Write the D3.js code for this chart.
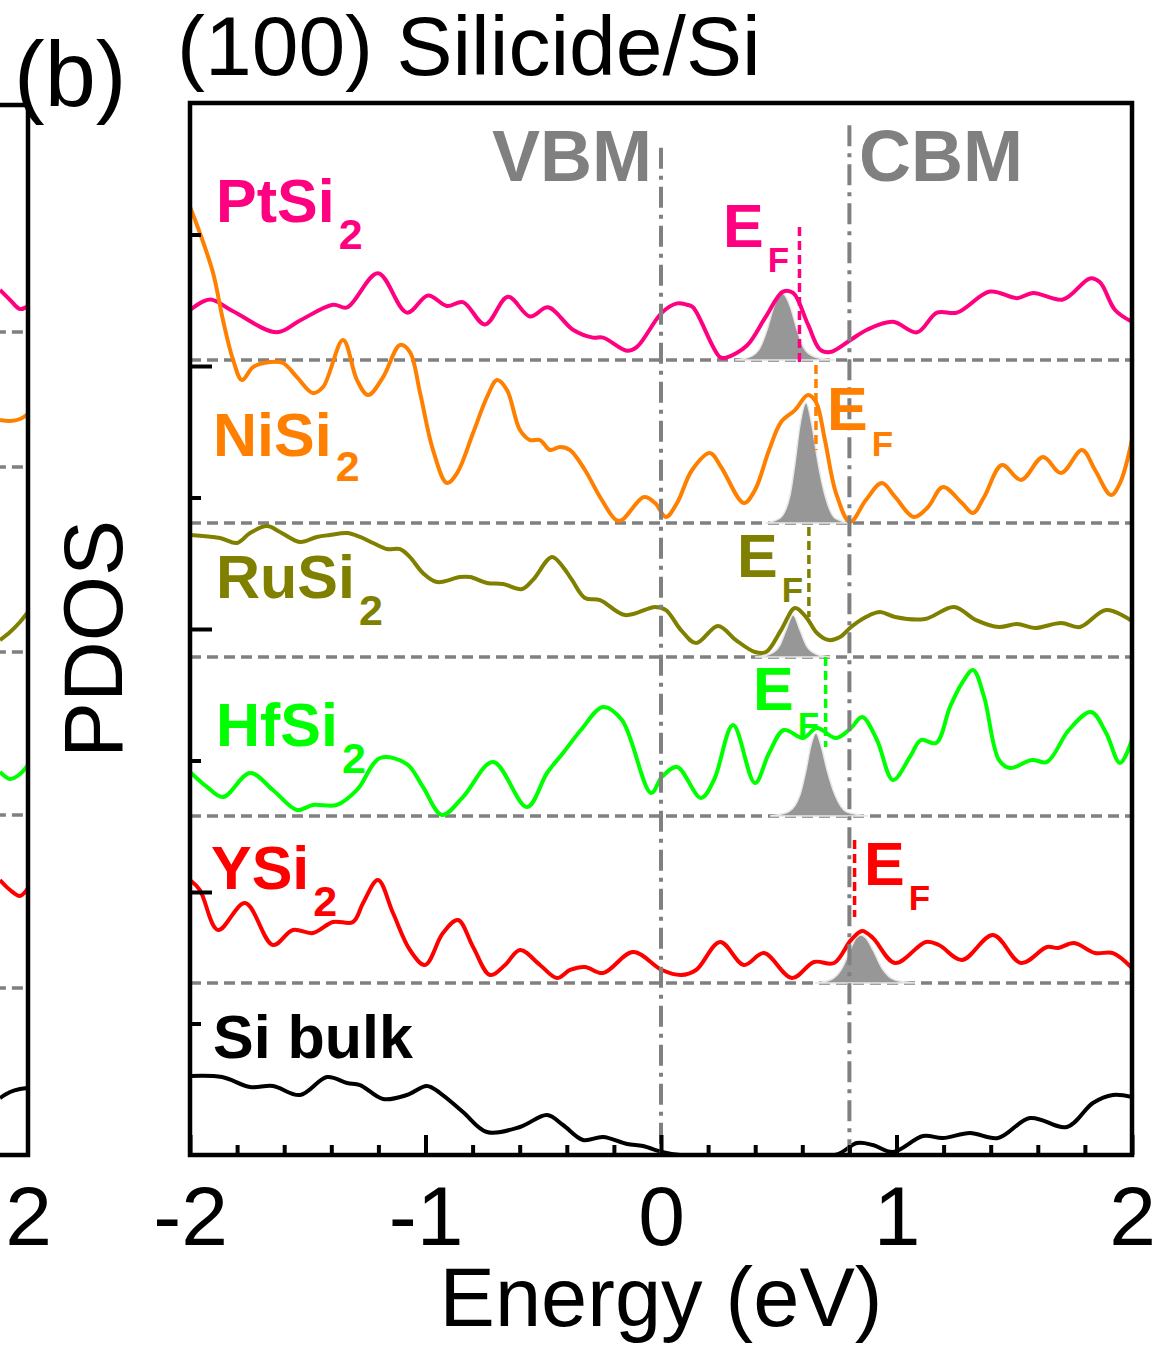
<!DOCTYPE html>
<html><head><meta charset="utf-8">
<script src="https://cdn.jsdelivr.net/npm/d3@7"></script>
<style>body{margin:0;background:#fff}text{font-family:"Liberation Sans",Arial,sans-serif}</style>
</head><body><svg id="c" width="1159" height="1346"></svg>
<script>
// ---------- DATA ----------
const materials = ["PtSi", "NiSi", "RuSi", "HfSi", "YSi", "Si bulk"];
const colors = ["#FF0080", "#FF8000", "#808000", "#00FF00", "#FF0000", "#000000"];
const offsets = [6.046, 4.806, 3.787, 2.578, 1.308, 0];
const xTicks = [-2, -1, 0, 1, 2];
const xTickLabels = ["-2", "-1", "0", "1", "2"];
const xMinorTicks = [-1.8,-1.6,-1.4,-1.2,-0.8,-0.6,-0.4,-0.2,0.2,0.4,0.6,0.8,1.2,1.4,1.6,1.8];
const yMajorTicks = [2, 4, 6];
const yMinorTicks = [1, 3, 5, 7];
const vbmE = 0, cbmE = 0.80;
const vbmTop = 7.66, cbmTop = 7.83;

const ptE = [-2.000,-1.915,-1.817,-1.631,-1.533,-1.393,-1.333,-1.202,-1.079,-0.989,-0.909,-0.841,-0.747,-0.650,-0.556,-0.480,-0.374,-0.289,-0.246,-0.144,-0.102,0.004,0.068,0.110,0.136,0.251,0.280,0.365,0.442,0.518,0.561,0.624,0.675,0.718,0.803,0.875,0.985,1.087,1.172,1.257,1.397,1.512,1.580,1.707,1.822,1.864,1.928,2.000];
const ptV = [0.38,0.46,0.37,0.21,0.30,0.42,0.40,0.66,0.36,0.49,0.41,0.44,0.27,0.48,0.33,0.40,0.23,0.17,0.17,0.07,0.10,0.36,0.43,0.42,0.40,0.02,0.02,0.11,0.32,0.52,0.51,0.27,0.08,0.06,0.15,0.23,0.29,0.21,0.36,0.36,0.52,0.47,0.51,0.46,0.62,0.59,0.38,0.29];

const niE = [-2.000,-1.958,-1.902,-1.860,-1.817,-1.779,-1.732,-1.660,-1.605,-1.546,-1.478,-1.435,-1.350,-1.291,-1.244,-1.180,-1.108,-1.066,-1.023,-0.968,-0.909,-0.866,-0.798,-0.739,-0.696,-0.654,-0.599,-0.556,-0.514,-0.471,-0.429,-0.386,-0.323,-0.259,-0.191,-0.166,-0.072,-0.025,0.021,0.068,0.132,0.208,0.255,0.352,0.399,0.459,0.510,0.569,0.624,0.658,0.696,0.743,0.803,0.870,0.938,0.994,1.074,1.134,1.197,1.278,1.325,1.372,1.448,1.529,1.622,1.699,1.788,1.843,1.911,1.949,2.000];
const niV = [2.403,2.205,1.901,1.544,1.240,1.087,1.186,1.224,1.217,1.110,0.989,1.034,1.392,1.087,0.973,1.110,1.354,1.300,0.989,0.555,0.304,0.380,0.684,0.958,1.087,1.011,0.707,0.631,0.631,0.555,0.578,0.555,0.403,0.198,0.023,0.023,0.198,0.152,0.046,0.152,0.403,0.532,0.426,0.152,0.251,0.555,0.768,0.859,0.973,0.920,0.631,0.228,0.008,0.175,0.304,0.198,0.046,0.122,0.274,0.152,0.076,0.198,0.441,0.327,0.502,0.380,0.555,0.403,0.213,0.304,0.631];

const ruE = [-2.000,-1.873,-1.800,-1.745,-1.673,-1.618,-1.533,-1.461,-1.406,-1.333,-1.278,-1.223,-1.163,-1.108,-1.066,-1.011,-0.951,-0.854,-0.811,-0.739,-0.671,-0.590,-0.544,-0.463,-0.416,-0.378,-0.323,-0.259,-0.153,-0.025,0.021,0.085,0.149,0.242,0.318,0.399,0.446,0.510,0.569,0.616,0.662,0.713,0.760,0.807,0.870,0.930,0.994,1.121,1.244,1.338,1.435,1.512,1.588,1.699,1.779,1.890,2.000];
const ruV = [0.928,0.905,0.867,0.943,0.996,0.951,0.875,0.913,0.928,0.943,0.913,0.867,0.821,0.821,0.760,0.639,0.570,0.608,0.608,0.563,0.555,0.517,0.586,0.760,0.684,0.586,0.449,0.433,0.319,0.380,0.357,0.205,0.106,0.236,0.129,0.038,0.038,0.205,0.373,0.304,0.183,0.129,0.152,0.228,0.304,0.342,0.304,0.289,0.380,0.281,0.228,0.251,0.221,0.259,0.228,0.357,0.274];

const hfE = [-2.000,-1.928,-1.860,-1.745,-1.648,-1.546,-1.478,-1.376,-1.291,-1.193,-1.079,-1.011,-0.930,-0.841,-0.713,-0.569,-0.484,-0.416,-0.340,-0.246,-0.166,-0.042,0.004,0.068,0.170,0.225,0.306,0.399,0.459,0.522,0.603,0.662,0.743,0.807,0.854,0.917,0.985,1.057,1.104,1.168,1.227,1.278,1.325,1.372,1.435,1.482,1.575,1.639,1.732,1.826,1.890,1.949,2.000];
const hfV = [0.335,0.221,0.144,0.327,0.198,0.046,0.084,0.084,0.198,0.441,0.395,0.221,0.008,0.144,0.411,0.068,0.327,0.479,0.654,0.829,0.730,0.175,0.297,0.373,0.137,0.274,0.692,0.251,0.479,0.654,0.593,0.669,0.593,0.669,0.753,0.578,0.274,0.449,0.578,0.555,0.829,1.011,1.110,0.905,0.426,0.365,0.426,0.411,0.654,0.791,0.631,0.403,0.578];

const yE = [-2.000,-1.958,-1.881,-1.766,-1.648,-1.563,-1.478,-1.393,-1.308,-1.265,-1.202,-1.138,-1.066,-1.002,-0.926,-0.862,-0.798,-0.726,-0.662,-0.599,-0.514,-0.442,-0.386,-0.323,-0.246,-0.119,0.004,0.085,0.149,0.251,0.352,0.437,0.556,0.650,0.735,0.807,0.854,0.900,0.994,1.125,1.180,1.278,1.410,1.529,1.639,1.686,1.754,1.843,1.919,2.000];
const yV = [0.783,0.707,0.403,0.608,0.289,0.403,0.380,0.464,0.464,0.608,0.783,0.532,0.251,0.137,0.380,0.479,0.274,0.061,0.137,0.251,0.137,0.038,0.099,0.122,0.076,0.236,0.099,0.061,0.099,0.312,0.137,0.228,0.038,0.160,0.152,0.327,0.395,0.342,0.152,0.312,0.289,0.175,0.365,0.152,0.274,0.266,0.304,0.228,0.228,0.114];

const siE = [-2.000,-1.864,-1.745,-1.648,-1.533,-1.418,-1.333,-1.278,-1.180,-1.079,-0.994,-0.938,-0.841,-0.739,-0.599,-0.484,-0.416,-0.331,-0.246,-0.144,-0.076,0.004,0.081,0.739,0.832,0.900,0.985,1.113,1.197,1.312,1.431,1.567,1.724,1.834,1.919,2.000];
const siV = [0.601,0.593,0.517,0.525,0.456,0.593,0.548,0.532,0.426,0.456,0.525,0.471,0.327,0.175,0.213,0.304,0.228,0.114,0.137,0.084,0.068,0.023,0,0,0.091,0.076,0.023,0.144,0.129,0.167,0.129,0.281,0.213,0.395,0.456,0.441];

// Gray Fermi-level peaks
const ptPeakE = [0.314,0.378,0.420,0.450,0.480,0.514,0.548,0.578,0.607,0.654,0.739];
const ptPeakV = [0,0.023,0.091,0.228,0.411,0.509,0.411,0.228,0.091,0.023,0];
const niPeakE = [0.442,0.505,0.548,0.569,0.590,0.616,0.641,0.667,0.696,0.739,0.803];
const niPeakV = [0,0.038,0.213,0.456,0.745,0.913,0.745,0.456,0.213,0.038,0];
const ruPeakE = [0.399,0.463,0.505,0.531,0.561,0.590,0.616,0.658,0.718];
const ruPeakV = [0,0.023,0.091,0.205,0.319,0.205,0.091,0.023,0];
const hfPeakE = [0.463,0.539,0.590,0.616,0.637,0.658,0.679,0.705,0.739,0.790,0.879];
const hfPeakV = [0,0.030,0.160,0.350,0.540,0.631,0.540,0.350,0.160,0.030,0];
const yPeakE = [0.654,0.718,0.769,0.803,0.828,0.849,0.870,0.900,0.938,0.994,1.079];
const yPeakV = [0,0.023,0.114,0.251,0.342,0.365,0.342,0.251,0.114,0.023,0];

const fermiE = [0.588, 0.658, 0.628, 0.699, 0.822];
const fermiTop = [7.057, 6.008, 4.776, 3.787, 2.395];
const fermiBottom = [6.023, 5.361, 4.091, 3.103, 1.810];

// fragment of neighbouring panel (a)
const leftE = [1.881, 1.924, 1.966, 2.0];
const leftPt = [6.578, 6.502, 6.433, 6.456];
const leftNi = [5.589, 5.582, 5.597, 5.635];
const leftRu = [3.916, 3.977, 4.053, 4.129];
const leftHf = [2.913, 2.859, 2.897, 2.966];
const leftY = [2.091, 2.015, 1.970, 2.030];
const leftSi = [0.433, 0.479, 0.502, 0.510];
const leftBaselines = [6.259, 5.232, 3.825, 2.586, 1.270];

// ---------- LAYOUT ----------
const svg = d3.select("#c");
svg.append("rect").attr("width",1159).attr("height",1346).attr("fill","#fff");
const x = d3.scaleLinear().domain([-2, 2]).range([190, 1132]);
const y = d3.scaleLinear().domain([0, 8]).range([1155, 103]);
const xL = d3.scaleLinear().domain([-2, 2]).range([28 - 942, 28]);
const GRAY = "#808080";

const defs = svg.append("defs");
defs.append("clipPath").attr("id","clipMain").append("rect").attr("x",190).attr("y",103).attr("width",942).attr("height",1052);
defs.append("clipPath").attr("id","clipLeft").append("rect").attr("x",0).attr("y",103).attr("width",28).attr("height",1052);

const curves = [
  {E: ptE, V: ptV, pE: ptPeakE, pV: ptPeakV},
  {E: niE, V: niV, pE: niPeakE, pV: niPeakV},
  {E: ruE, V: ruV, pE: ruPeakE, pV: ruPeakV},
  {E: hfE, V: hfV, pE: hfPeakE, pV: hfPeakV},
  {E: yE, V: yV, pE: yPeakE, pV: yPeakV},
  {E: siE, V: siV}
];

// ----- left fragment panel -----
const gl = svg.append("g").attr("clip-path","url(#clipLeft)");
leftBaselines.forEach(b => {
  gl.append("line").attr("x1", xL(1.8)).attr("x2", xL(2)).attr("y1", y(b)).attr("y2", y(b))
    .attr("stroke", GRAY).attr("stroke-width", 3.5).attr("stroke-dasharray", "11,6").attr("stroke-dashoffset", 3);
});
const leftSets = [leftPt, leftNi, leftRu, leftHf, leftY, leftSi];
const lineL = d3.line().x(d => xL(d[0])).y(d => y(d[1])).curve(d3.curveCatmullRom.alpha(0.5));
leftSets.forEach((s, i) => {
  gl.append("path").attr("d", lineL(leftE.map((e, k) => [e, s[k]])))
    .attr("fill","none").attr("stroke", colors[i]).attr("stroke-width", 4);
});
svg.append("path").attr("d", `M0,${y(8)+2}H${xL(2)}V${y(0)}H0`).attr("fill","none").attr("stroke","#000").attr("stroke-width",4.5);
const axL = svg.append("g").attr("transform", `translate(0,${y(0)})`)
  .call(d3.axisBottom(xL).tickValues([2]).tickSize(0).tickPadding(30).tickFormat(() => "2"));
axL.select(".domain").remove();
axL.selectAll("text").attr("font-size", 84).attr("fill","#000").style("font-family",'"Liberation Sans",Arial,sans-serif');

// ----- main panel -----
const gm = svg.append("g").attr("clip-path","url(#clipMain)");
// dashed baselines
offsets.slice(0, 5).forEach(b => {
  gm.append("line").attr("x1", x(-2)).attr("x2", x(2)).attr("y1", y(b)).attr("y2", y(b))
    .attr("stroke", GRAY).attr("stroke-width", 3.5).attr("stroke-dasharray", "11,6");
});
// gray fermi peaks
const area = (off) => d3.area().x(d => x(d[0])).y0(y(off)).y1(d => y(off + d[1])).curve(d3.curveMonotoneX);
curves.forEach((c, i) => {
  if (!c.pE) return;
  gm.append("path").attr("d", area(offsets[i])(c.pE.map((e, k) => [e, c.pV[k]])))
    .attr("fill", "#979797").attr("stroke", "#e8e8e8").attr("stroke-width", 1.5);
});
// PDOS curves
curves.forEach((c, i) => {
  const ln = d3.line().x(d => x(d[0])).y(d => y(offsets[i] + d[1])).curve(d3.curveCatmullRom.alpha(0.5));
  gm.append("path").attr("d", ln(c.E.map((e, k) => [e, c.V[k]])))
    .attr("fill","none").attr("stroke", colors[i]).attr("stroke-width", 4).attr("stroke-linejoin","round");
});
// VBM / CBM dash-dot lines
[[vbmE, vbmTop], [cbmE, cbmTop]].forEach(([e, top]) => {
  gm.append("line").attr("x1", x(e)).attr("x2", x(e)).attr("y1", y(top)).attr("y2", y(0))
    .attr("stroke", GRAY).attr("stroke-width", 4).attr("stroke-dasharray", "21,7,4,7");
});
// Fermi level dashed lines
fermiE.forEach((e, i) => {
  gm.append("line").attr("x1", x(e)).attr("x2", x(e)).attr("y1", y(fermiTop[i])).attr("y2", y(fermiBottom[i]))
    .attr("stroke", colors[i]).attr("stroke-width", 3.5).attr("stroke-dasharray", "9,5");
});

// axes ticks
const axB1 = svg.append("g").attr("transform", `translate(0,${y(0)})`)
  .call(d3.axisBottom(x).tickValues(xMinorTicks).tickSize(-10).tickFormat(""));
const axB2 = svg.append("g").attr("transform", `translate(0,${y(0)})`)
  .call(d3.axisBottom(x).tickValues(xTicks).tickSize(-20).tickPadding(30).tickFormat((d, i) => xTickLabels[i]));
const axY1 = svg.append("g").attr("transform", `translate(${x(-2)},0)`)
  .call(d3.axisLeft(y).tickValues(yMinorTicks).tickSize(-11).tickFormat(""));
const axY2 = svg.append("g").attr("transform", `translate(${x(-2)},0)`)
  .call(d3.axisLeft(y).tickValues(yMajorTicks).tickSize(-22).tickFormat(""));
[axB1, axB2, axY1, axY2].forEach(a => {
  a.select(".domain").remove();
  a.selectAll(".tick line").attr("stroke","#000").attr("stroke-width",4);
});
axB2.selectAll("text").attr("font-size", 84).attr("fill","#000").style("font-family",'"Liberation Sans",Arial,sans-serif');

// frame
svg.append("rect").attr("x", x(-2)).attr("y", y(8)).attr("width", x(2) - x(-2)).attr("height", y(0) - y(8))
  .attr("fill","none").attr("stroke","#000").attr("stroke-width",4.5);

// ----- texts -----
const T = (tx, ty, str, size, opts = {}) => {
  const t = svg.append("text").attr("x", tx).attr("y", ty).attr("font-size", size)
    .attr("fill", opts.fill || "#000").attr("font-weight", opts.bold ? "bold" : "normal")
    .attr("text-anchor", opts.anchor || "start").text(str);
  if (opts.transform) t.attr("transform", opts.transform);
  return t;
};
T(14, 106, "(b)", 92);
T(177, 75, "(100) Silicide/Si", 84);
T(661, 1326, "Energy (eV)", 83, {anchor: "middle"});
T(0, 0, "PDOS", 84, {anchor: "middle", transform: "translate(122,639) rotate(-90)"});
T(652, 181, "VBM", 72, {bold: true, fill: GRAY, anchor: "end"});
T(859, 181, "CBM", 72, {bold: true, fill: GRAY});

const labelPos = [[216, 222, 27], [213, 456, 25], [216, 598, 27], [216, 746, 27], [211, 889, 27]];
labelPos.forEach(([lx, ly, sdy], i) => {
  const t = T(lx, ly, materials[i], 61, {bold: true, fill: colors[i]});
  t.append("tspan").attr("dx", 4).attr("dy", sdy).attr("font-size", 43).text("2");
});
T(213, 1058, materials[5], 61, {bold: true});

const efPos = [[723, 247, 25], [827, 430, 26], [737, 577, 25], [753, 710, 27], [864, 885, 25]];
efPos.forEach(([lx, ly, sdy], i) => {
  const t = T(lx, ly, "E", 61, {bold: true, fill: colors[i]});
  t.append("tspan").attr("dx", 4).attr("dy", sdy).attr("font-size", 35).text("F");
});
</script></body></html>
